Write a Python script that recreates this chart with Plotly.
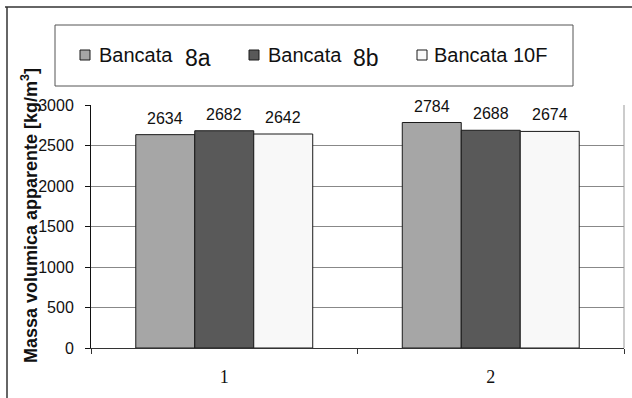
import plotly.graph_objects as go

# Apparent density per sample group
categories = ["1", "2"]
series_names = ["Bancata 8a", "Bancata 8b", "Bancata 10F"]
legend_stem = ["Bancata", "Bancata", "Bancata 10F"]
legend_suffix = ["8a", "8b", ""]
bancata_8a = [2634, 2784]
bancata_8b = [2682, 2688]
bancata_10f = [2642, 2674]
y_ticks = [0, 500, 1000, 1500, 2000, 2500, 3000]

series_values = [bancata_8a, bancata_8b, bancata_10f]
fills = ["#A6A6A6", "#595959", "#F8F8F8"]
SANS = "Liberation Sans, Arial, sans-serif"

W, H = 632, 398
L, R, T, B = 91, 8, 105, 50
pw, ph = W - L - R, H - T - B


def px(x):
    return (x - L) / pw


def py(y):
    return (H - B - y) / ph


fig = go.Figure()
for name, vals, col in zip(series_names, series_values, fills):
    fig.add_trace(go.Bar(
        x=categories, y=vals, name=name,
        marker=dict(color=col, line=dict(color="#1a1a1a", width=1)),
        showlegend=False,
    ))

bargap = 0.336
bw = (1 - bargap) / len(series_values)
annotations = []
for i, vals in enumerate(series_values):
    off = (i - (len(series_values) - 1) / 2) * bw
    for j, v in enumerate(vals):
        annotations.append(dict(
            x=j + off, y=v, xref="x", yref="y", text=str(v), showarrow=False,
            yanchor="bottom", yshift=6,
            font=dict(family=SANS, size=16, color="#111"),
        ))

# y-axis title
annotations.append(dict(
    x=px(29), y=py(216), xref="paper", yref="paper",
    text="<b>Massa volumica apparente [kg/m<sup>3</sup>]</b>",
    textangle=-90, showarrow=False, xanchor="center", yanchor="middle",
    font=dict(family=SANS, size=18, color="#111"),
))

shapes = []
# legend box
shapes.append(dict(type="rect", xref="paper", yref="paper",
                   x0=px(55), x1=px(573), y0=py(86), y1=py(25),
                   line=dict(color="#555555", width=1), fillcolor="white"))
sym_x = [80, 249, 417]
txt_x = [97, 266, 432]
suf_x = [183, 351, None]
for sx, tx, ux, col, stem, suf in zip(sym_x, txt_x, suf_x, fills,
                                      legend_stem, legend_suffix):
    shapes.append(dict(type="rect", xref="paper", yref="paper",
                       x0=px(sx), x1=px(sx + 10), y0=py(60), y1=py(50),
                       line=dict(color="#1a1a1a", width=1), fillcolor=col))
    annotations.append(dict(
        x=px(tx), y=py(55), xref="paper", yref="paper", text=stem,
        showarrow=False, xanchor="left", yanchor="middle",
        font=dict(family=SANS, size=20, color="#111"),
    ))
    if suf:
        annotations.append(dict(
            x=px(ux), y=py(58), xref="paper", yref="paper", text=suf,
            showarrow=False, xanchor="left", yanchor="middle",
            font=dict(family=SANS, size=23, color="#111"),
        ))

# outer frame edges
shapes.append(dict(type="line", xref="paper", yref="paper",
                   x0=px(5), x1=px(640), y0=py(7), y1=py(7),
                   line=dict(color="#333333", width=1.5)))
shapes.append(dict(type="line", xref="paper", yref="paper",
                   x0=px(7), x1=px(7), y0=py(7), y1=py(410),
                   line=dict(color="#333333", width=1.5)))
# right border of plot area
shapes.append(dict(type="line", xref="paper", yref="paper",
                   x0=1, x1=1, y0=0, y1=1,
                   line=dict(color="#999999", width=1)))

fig.update_layout(
    width=W, height=H,
    margin=dict(l=L, r=R, t=T, b=B),
    paper_bgcolor="white", plot_bgcolor="white",
    barmode="group", bargap=bargap, bargroupgap=0,
    showlegend=False,
    annotations=annotations, shapes=shapes,
)
fig.update_xaxes(
    type="category", showgrid=False, showline=True, linecolor="#333333", linewidth=1,
    ticks="outside", tickson="boundaries", ticklen=5, tickcolor="#333333",
    tickfont=dict(family="Liberation Serif, Times New Roman, serif", size=18, color="#111"),
    ticklabelstandoff=12,
)
fig.update_yaxes(
    range=[0, 3000], tickvals=y_ticks, showgrid=True, gridcolor="#888888", gridwidth=1,
    showline=True, linecolor="#111111", linewidth=1, zeroline=False,
    ticks="outside", ticklen=5, tickcolor="#111111",
    tickfont=dict(family=SANS, size=16, color="#111"),
    ticklabelstandoff=8,
)

fig.write_html("out.html")
